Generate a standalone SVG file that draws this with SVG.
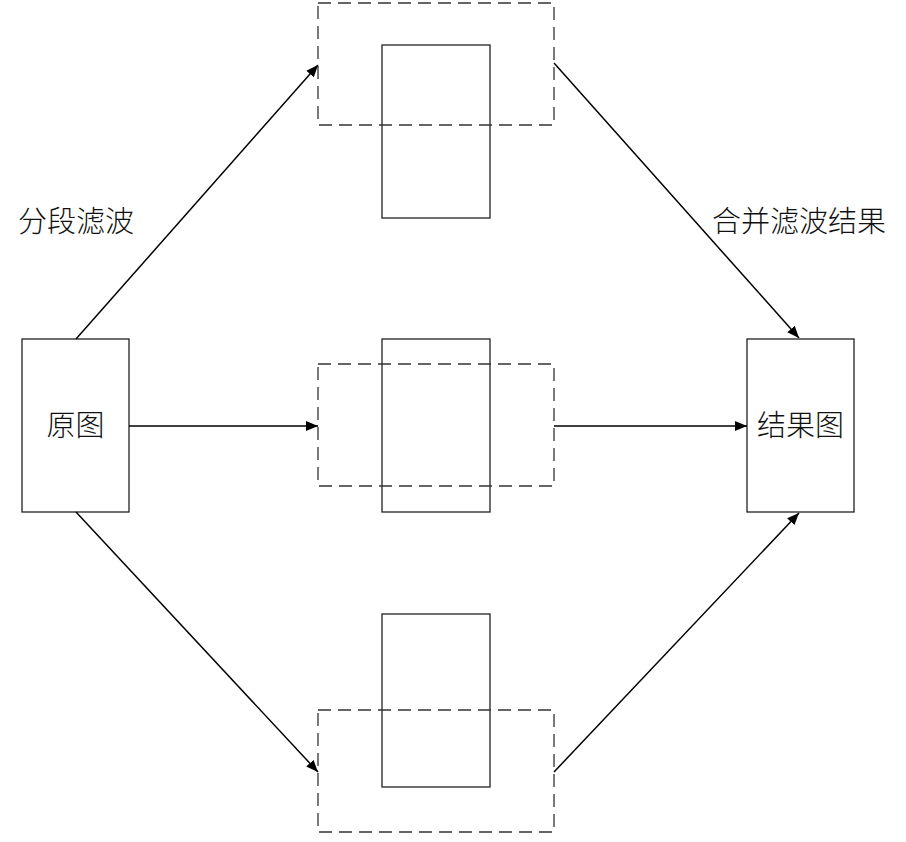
<svg xmlns="http://www.w3.org/2000/svg" width="906" height="842" viewBox="0 0 906 842">
<style>
.solid{fill:#fff;stroke:#222;stroke-width:1.3}
.dash{fill:none;stroke:#333;stroke-width:1.3;stroke-dasharray:13 7}
.conn{stroke:#000;stroke-width:1.5;fill:none;marker-end:url(#ah)}
text{font-family:"Noto Sans CJK SC","Noto Sans",sans-serif;font-size:29px;fill:#111;font-weight:300}
</style>
<defs>
<marker id="ah" viewBox="0 0 12 10" refX="12" refY="5" markerWidth="12" markerHeight="10" markerUnits="userSpaceOnUse" orient="auto">
<path d="M0,0 L12,5 L0,10 z" fill="#000"/>
</marker>
</defs>
<rect width="906" height="842" fill="#fff"/>
<g id="top">
<rect class="solid" x="382" y="45" width="108" height="173"/>
<rect class="dash" x="318" y="3" width="236" height="122"/>
</g>
<g id="middle">
<rect class="solid" x="382" y="339" width="108" height="173"/>
<rect class="dash" x="318" y="364" width="236" height="122"/>
</g>
<g id="bottom">
<rect class="solid" x="382" y="614" width="108" height="173"/>
<rect class="dash" x="318" y="710" width="236" height="122"/>
</g>
<g id="src">
<rect class="solid" x="22" y="339" width="107" height="173"/>
<text x="75.5" y="436" text-anchor="middle">原图</text>
</g>
<g id="dst">
<rect class="solid" x="747" y="339" width="107" height="173"/>
<text x="800.5" y="436" text-anchor="middle">结果图</text>
</g>
<g id="labels">
<text x="18" y="232">分段滤波</text>
<text x="712" y="232">合并滤波结果</text>
</g>
<g id="connectors">
<line class="conn" x1="76" y1="339" x2="318" y2="65"/>
<line class="conn" x1="129" y1="426" x2="318" y2="426"/>
<line class="conn" x1="76" y1="512" x2="318" y2="772"/>
<line class="conn" x1="554" y1="63" x2="799" y2="338"/>
<line class="conn" x1="554" y1="426" x2="747" y2="426"/>
<line class="conn" x1="554" y1="772" x2="799" y2="513"/>
</g>
</svg>
